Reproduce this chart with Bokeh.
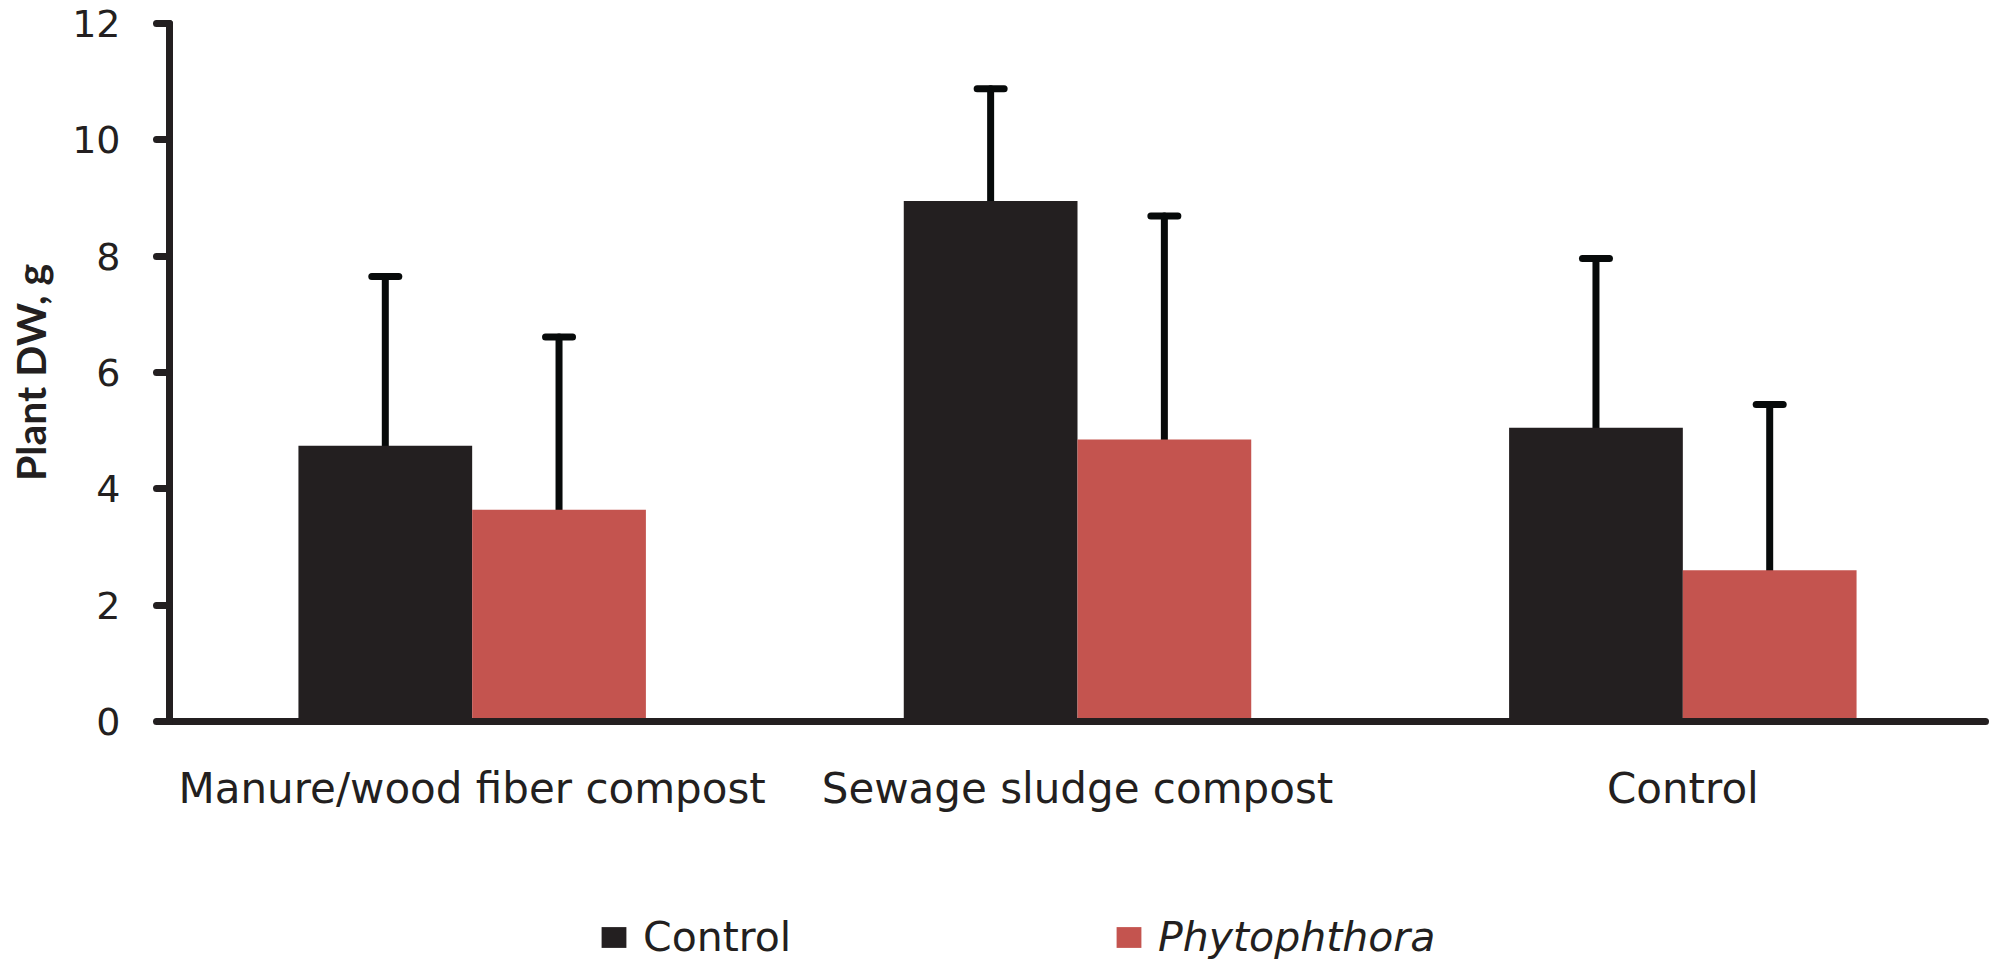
from bokeh.plotting import figure
from bokeh.models import (ColumnDataSource, FactorRange, Range1d, Whisker, TeeHead,
                          Legend, LegendItem, FixedTicker)
from bokeh.transform import dodge
from bokeh.core.properties import value
from bokeh.layouts import column
from bokeh.embed import file_html
from bokeh.resources import INLINE

# ---- data ----
categories = ["Manure/wood fiber compost", "Sewage sludge compost", "Control"]
series_names = ["Control", "Phytophthora"]
control = [4.74, 8.95, 5.05]
control_err = [2.91, 1.93, 2.91]
phyto = [3.64, 4.85, 2.60]
phyto_err = [2.97, 3.84, 2.85]
y_ticks = [0, 2, 4, 6, 8, 10, 12]

BLACK = "#231f20"
RED = "#c4544f"
ERR = "#070a0a"
TXT = "#231f20"

src = ColumnDataSource(dict(
    cat=categories,
    control=control,
    control_up=[v + e for v, e in zip(control, control_err)],
    phyto=phyto,
    phyto_up=[v + e for v, e in zip(phyto, phyto_err)],
))

p = figure(x_range=FactorRange(*categories), y_range=Range1d(0, 12),
           width=1989, height=880, output_backend="svg", toolbar_location=None,
           min_border_left=169, min_border_right=4, min_border_top=23,
           min_border_bottom=159)
p.x_range.range_padding = 0
p.grid.visible = False
p.outline_line_color = None
p.background_fill_color = "white"
p.border_fill_color = "white"

off = 0.1435
bw = 0.287
r1 = p.vbar(x=dodge("cat", -off, range=p.x_range), top="control", width=bw,
            source=src, fill_color=BLACK, line_color=None)
r2 = p.vbar(x=dodge("cat", off, range=p.x_range), top="phyto", width=bw,
            source=src, fill_color=RED, line_color=None)

for xoff, lo, up in [(-off, "control", "control_up"), (off, "phyto", "phyto_up")]:
    w = Whisker(source=src, base=dodge("cat", xoff, range=p.x_range),
                lower=lo, upper=up, dimension="height",
                line_color=ERR, line_width=7, line_cap="round",
                lower_head=None,
                upper_head=TeeHead(size=27, line_color=ERR, line_width=7, line_cap="round"))
    p.add_layout(w)

# ---- axes ----
for ax in (p.xaxis[0], p.yaxis[0]):
    ax.axis_line_color = BLACK
    ax.axis_line_width = 7
    ax.axis_line_cap = "round"
    ax.minor_tick_line_color = None
    ax.major_label_text_color = TXT
    ax.major_label_text_font = "DejaVu Sans"

p.yaxis.ticker = FixedTicker(ticks=y_ticks)
p.yaxis.major_tick_line_color = BLACK
p.yaxis.major_tick_line_width = 7
p.yaxis.major_tick_line_cap = "round"
p.yaxis.major_tick_in = 0
p.yaxis.major_tick_out = 13
p.yaxis.major_label_standoff = 36
p.yaxis.major_label_text_font_size = "38px"
p.yaxis.axis_label = "Plant DW, g"
p.yaxis.axis_label_text_font = "Lato"
p.yaxis.axis_label_text_font_style = "bold"
p.yaxis.axis_label_text_font_size = "41px"
p.yaxis.axis_label_text_color = TXT
p.yaxis.axis_label_standoff = 14

p.xaxis.major_tick_line_color = None
p.xaxis.major_tick_in = 0
p.xaxis.major_tick_out = 0
p.xaxis.major_label_standoff = 42
p.xaxis.major_label_text_font_size = "42px"
p.xaxis.major_label_orientation = "horizontal"

# ---- legend strip (two legends, so that only Phytophthora is italic) ----
# It shares the categorical x range; its y range lies above the data, so the
# key renderers (same source) draw nothing in the strip but feed the legends.
lf = figure(width=1989, height=89, x_range=p.x_range, y_range=Range1d(100, 101),
            x_axis_type=None, y_axis_type=None, output_backend="svg",
            toolbar_location=None, min_border=0)
lf.grid.visible = False
lf.outline_line_color = None
lf.background_fill_color = "white"
lf.border_fill_color = "white"
k1 = lf.vbar(x=dodge("cat", -off, range=p.x_range), top="control", width=bw,
             source=src, fill_color=BLACK, line_color=None)
k2 = lf.vbar(x=dodge("cat", off, range=p.x_range), top="phyto", width=bw,
             source=src, fill_color=RED, line_color=None)


def make_legend(label, rend, x, style):
    return Legend(items=[LegendItem(label=value(label), renderers=[rend], index=0)],
                  location=(x, 8), orientation="horizontal",
                  glyph_width=31, glyph_height=26, label_standoff=14,
                  label_height=26, padding=0, margin=0, spacing=0,
                  border_line_color=None, background_fill_alpha=0,
                  label_text_font="DejaVu Sans", label_text_font_size="41px",
                  label_text_font_style=style, label_text_color=TXT)


lf.add_layout(make_legend(series_names[0], k1, 429, "normal"))
lf.add_layout(make_legend(series_names[1], k2, 944, "italic"))

layout = column(p, lf, spacing=0)
open("out.html", "w").write(file_html(layout, INLINE))
